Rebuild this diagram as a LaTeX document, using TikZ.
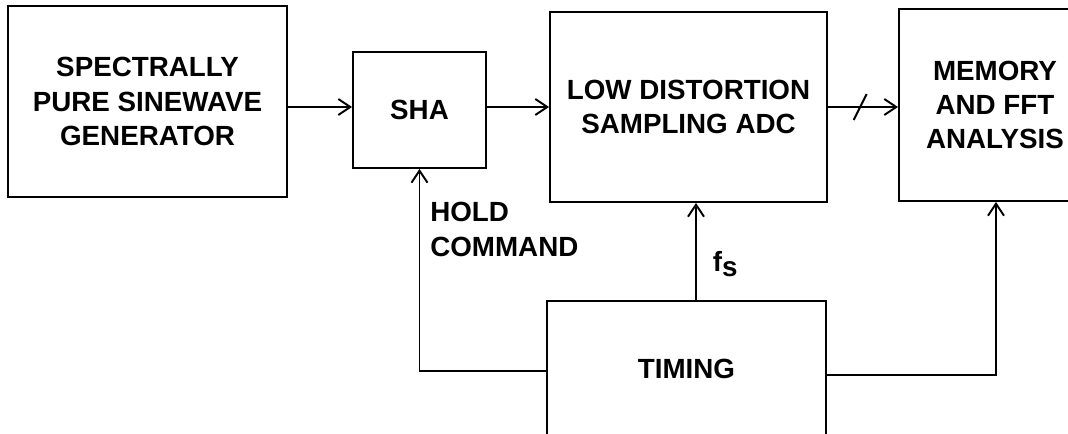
\documentclass[tikz,border=0pt]{standalone}
\usepackage{fontspec}
\setmainfont{Liberation Sans}
\usetikzlibrary{arrows.meta,positioning}

\tikzset{
    block/.style={draw, line width=1.1pt, align=center, inner sep=0pt},
    lbl/.style={font=\bfseries\fontsize{15.8}{19.6}\selectfont},
}

\begin{document}
\begin{tikzpicture}[x=0.02cm, y=-0.02cm, line width=1.1pt,
        >={Straight Barb[length=0.24cm, width=0.32cm, line width=1.1pt]}]
        \useasboundingbox (0,0) rectangle (1068,433);

        % 方框
        \node[block, lbl, minimum width=5.58cm, minimum height=3.82cm] (gen) at (147.5,101.5) {SPECTRALLY\\PURE SINEWAVE\\GENERATOR};
        \node[block, lbl, minimum width=2.66cm, minimum height=2.32cm] (sha) at (419.5,110) {SHA};
        \node[block, lbl, minimum width=5.54cm, minimum height=3.80cm] (adc) at (688.5,107) {LOW DISTORTION\\SAMPLING ADC};
        \node[block, lbl, minimum width=3.84cm, minimum height=3.84cm] (mem) at (995,105) {MEMORY\\AND FFT\\ANALYSIS};
        \node[block, lbl, minimum width=5.58cm, minimum height=2.70cm] (timing) at (686.5,368.5) {TIMING};

        % 信号通路
        \draw[->] (gen.east |- 0,107) -- (sha.west |- 0,107);
        \draw[->] (sha.east |- 0,107) -- (adc.west |- 0,107);
        \draw[->] (adc.east) -- coordinate[pos=0.46] (bus) (adc.east -| mem.west);
        \draw ([shift={(-6.5,13)}]bus) -- ([shift={(6.5,-13)}]bus); % 总线标记

        % 时序控制
        \draw[->] ([shift={(0,2.5)}]timing.west) -| (sha.south)
            node[lbl, pos=0.85, anchor=west, xshift=0.08cm, align=left] {HOLD\\COMMAND};
        \draw[->] ([shift={(9.5,0)}]timing.north) coordinate (fsbase) -- (fsbase |- adc.south)
            node[lbl, pos=0.37, right=0.2cm] {f\raisebox{-2.8pt}{s}};
        \draw[->] ([shift={(0,6.5)}]timing.east) -| ([shift={(1,0)}]mem.south);
    \end{tikzpicture}
\end{document}
